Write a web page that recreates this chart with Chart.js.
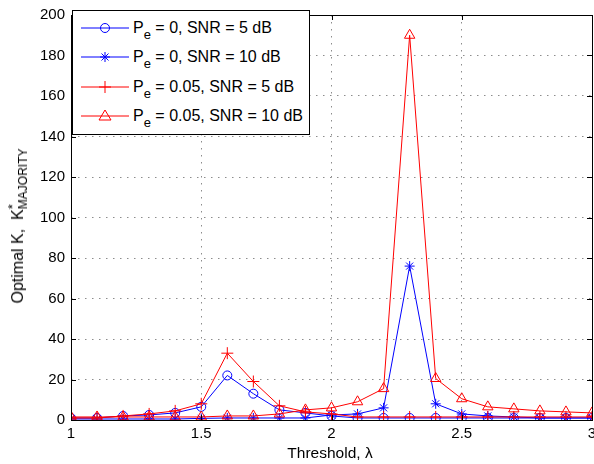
<!DOCTYPE html>
<html>
<head>
<meta charset="utf-8">
<script src="https://cdn.jsdelivr.net/npm/chart.js@4/dist/chart.umd.min.js"></script>
<style>
	html,body{margin:0;padding:0;background:#fff;overflow:hidden;}
	#wrap{position:absolute;left:0;top:0;width:604px;height:464px;}
	#chart{position:absolute;left:0;top:0;}
	.lbl{position:absolute;font-family:"Liberation Sans",Arial,sans-serif;color:#000;white-space:nowrap;}
	#ytitle{left:18px;top:226px;font-size:16px;transform:translate(-50%,-50%) rotate(-90deg);}
	#xtitle{left:330px;top:453px;font-size:15.5px;transform:translate(-50%,-50%);}
	#legend{position:absolute;left:72px;top:10px;width:238px;height:125px;background:#fff;border:1px solid #000;box-sizing:border-box;}
	.row{position:absolute;left:0;height:20px;}
	.row svg{position:absolute;left:7px;top:0;}
	.row .txt{position:absolute;left:60px;top:0;font-size:16px;line-height:20px;font-family:"Liberation Sans",Arial,sans-serif;white-space:nowrap;}
	sub{font-size:13px;vertical-align:-6px;line-height:0;}
	sup{font-size:13px;vertical-align:6px;line-height:0;}
	.ysub{font-size:12px;vertical-align:-4px;line-height:0;margin-left:-5px;}
</style>
</head>
<body>
<div id="wrap">
	<canvas id="chart" width="604" height="464"></canvas>
	<div id="legend"></div>
	<div id="ytitle" class="lbl">Optimal K,&nbsp; K<sup>*</sup><span class="ysub">MAJORITY</span></div>
	<div id="xtitle" class="lbl">Threshold, λ</div>
</div>
<script>
// threshold values (x axis)
const thresholds = [1.0,1.1,1.2,1.3,1.4,1.5,1.6,1.7,1.8,1.9,2.0,2.1,2.2,2.3,2.4,2.5,2.6,2.7,2.8,2.9,3.0];
// series
const pe0snr5   = [1,1,2,2.5,3.5,6.5,22,13,5,3.5,2,1,1,1,1,1,1,1,1,1,1];
const pe0snr10  = [0.5,0.5,0.5,0.5,0.5,0.8,1,1,1,1,2.5,3,6,76,8,3,2,1.5,1,1,1];
const pe05snr5  = [1,1,2,3,4.5,8,33,19,7,4,3,1.5,1.5,1.5,1.5,1.5,1.5,1.5,1.5,1.5,1.5];
const pe05snr10 = [1.5,1.5,1.5,1.5,1.5,1.5,2,2,3,5,6,9,15.5,190,20.5,10.5,6.5,5.5,4.5,4,3.5];
const xTicks = [1,1.5,2,2.5,3];
const yTicks = [0,20,40,60,80,100,120,140,160,180,200];

const legendItems = [
	{ pe:'0', snr:'5', color:'#0000ff', marker:'circle' },
	{ pe:'0', snr:'10', color:'#0000ff', marker:'star' },
	{ pe:'0.05', snr:'5', color:'#ff0000', marker:'cross' },
	{ pe:'0.05', snr:'10', color:'#ff0000', marker:'triangle' }
];

function pts(arr){ return thresholds.map((x,i)=>({x:x, y:arr[i]})); }

function ds(label, arr, color, style, radius, order){
	return {
		label, data: pts(arr), borderColor: color, backgroundColor: 'rgba(0,0,0,0)',
		borderWidth: 1, pointStyle: style, pointRadius: radius, pointBorderColor: color,
		pointBackgroundColor: 'rgba(0,0,0,0)', pointBorderWidth: 1, tension: 0, order
	};
}

// MATLAB style box + inward ticks
const frame = {
	id: 'frame',
	afterDatasetsDraw(chart){
		const c = chart.ctx, a = chart.chartArea, xs = chart.scales.x, ys = chart.scales.y;
		c.save();
		c.strokeStyle = '#000'; c.lineWidth = 1;
		c.beginPath();
		xTicks.forEach(v=>{
			const px = Math.round(xs.getPixelForValue(v))+0.5;
			c.moveTo(px, a.bottom); c.lineTo(px, a.bottom-5);
			c.moveTo(px, a.top); c.lineTo(px, a.top+5);
		});
		yTicks.forEach(v=>{
			const py = Math.round(ys.getPixelForValue(v))+0.5;
			c.moveTo(a.left, py); c.lineTo(a.left+5, py);
			c.moveTo(a.right, py); c.lineTo(a.right-5, py);
		});
		c.stroke();
		c.strokeRect(Math.round(a.left)+0.5, Math.round(a.top)+0.5, Math.round(a.right-a.left), Math.round(a.bottom-a.top));
		c.restore();
	}
};

const tickFont = { family: '"Liberation Sans", Arial, sans-serif', size: 15 };

new Chart(document.getElementById('chart').getContext('2d'), {
	type: 'line',
	data: {
		datasets: [
			ds('Pe = 0, SNR = 5 dB', pe0snr5, '#0000ff', 'circle', 4.5, 4),
			ds('Pe = 0, SNR = 10 dB', pe0snr10, '#0000ff', 'star', 5, 3),
			ds('Pe = 0.05, SNR = 5 dB', pe05snr5, '#ff0000', 'cross', 6, 2),
			ds('Pe = 0.05, SNR = 10 dB', pe05snr10, '#ff0000', 'triangle', 6, 1)
		]
	},
	options: {
		responsive: false, animation: false, devicePixelRatio: 1,
		layout: { padding: { left: 30, right: 12, top: 10, bottom: 0 } },
		plugins: { legend: { display: false }, tooltip: { enabled: false } },
		scales: {
			x: {
				type: 'linear', min: 1, max: 3,
				afterBuildTicks(s){ s.ticks = xTicks.map(v=>({value:v})); },
				afterFit(s){ s.height = 44; },
				ticks: { font: tickFont, color: '#000', padding: 5, maxRotation: 0, callback: v=>String(v) },
				grid: { color: '#8c8c8c', drawTicks: false, lineWidth: 1 },
				border: { display: false, dash: [1.5, 5.5] }
			},
			y: {
				min: 0, max: 200,
				afterBuildTicks(s){ s.ticks = yTicks.map(v=>({value:v})); },
				afterFit(s){ s.width = 41; },
				ticks: { font: tickFont, color: '#000', padding: 6, callback: v=>String(v) },
				grid: { color: '#8c8c8c', drawTicks: false, lineWidth: 1 },
				border: { display: false, dash: [1.5, 5.5] }
			}
		}
	},
	plugins: [frame]
});

// legend with subscripts
function markerSvg(m, color){
	const cx = 25, cy = 10;
	let s = '';
	if(m==='circle') s = `<circle cx="${cx}" cy="${cy}" r="4.5" fill="none" stroke="${color}"/>`;
	if(m==='cross') s = `<path d="M${cx-6} ${cy}H${cx+6}M${cx} ${cy-6}V${cy+6}" stroke="${color}"/>`;
	if(m==='star') s = `<path d="M${cx-5} ${cy}H${cx+5}M${cx} ${cy-5}V${cy+5}M${cx-3.5} ${cy-3.5}L${cx+3.5} ${cy+3.5}M${cx-3.5} ${cy+3.5}L${cx+3.5} ${cy-3.5}" stroke="${color}"/>`;
	if(m==='triangle') s = `<path d="M${cx} ${cy-6}L${cx+6} ${cy+4}L${cx-6} ${cy+4}Z" fill="none" stroke="${color}"/>`;
	return `<svg width="52" height="20"><line x1="1" y1="${cy}" x2="49" y2="${cy}" stroke="${color}"/>${s}</svg>`;
}
const legend = document.getElementById('legend');
legendItems.forEach((it,i)=>{
	const r = document.createElement('div');
	r.className = 'row';
	r.style.top = (7 + i*29.3) + 'px';
	r.innerHTML = markerSvg(it.marker, it.color) + `<div class="txt">P<sub>e</sub> = ${it.pe}, SNR = ${it.snr} dB</div>`;
	legend.appendChild(r);
});
</script>
</body>
</html>
